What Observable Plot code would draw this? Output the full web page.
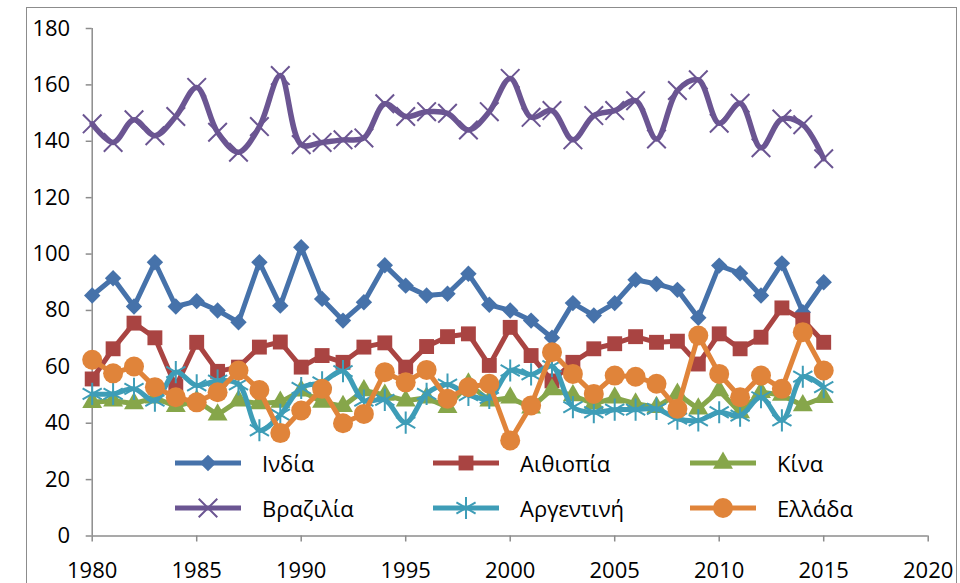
<!DOCTYPE html>
<html><head><meta charset="utf-8">
<script src="https://cdn.jsdelivr.net/npm/d3@7"></script>
<script src="https://cdn.jsdelivr.net/npm/@observablehq/plot@0.6"></script>
<style>
body{margin:0;background:#fff;}
#wrap{position:relative;width:960px;height:583px;overflow:hidden;font-family:"Open Sans",sans-serif;}
#frame{position:absolute;left:26px;top:7px;width:931px;height:640px;border:1px solid #8c8c8c;box-sizing:border-box;}
#chart{position:absolute;left:0;top:0;}
.leg{position:absolute;display:flex;align-items:center;font-size:22px;color:#000;}
.leg svg{display:block;}
</style></head><body>
<div id="wrap"><div id="frame"></div><div id="chart"></div><div id="legend"></div></div>
<script>
const years = d3.range(1980, 2016);
const xTicks = [1980,1985,1990,1995,2000,2005,2010,2015,2020];
const yTicks = [0,20,40,60,80,100,120,140,160,180];
const seriesNames = ["Ινδία","Αιθιοπία","Κίνα","Βραζιλία","Αργεντινή","Ελλάδα"];
const india = [85.3,91.4,81.4,97.1,81.4,83.3,80,75.8,97.1,81.7,102.4,84.1,76.4,82.9,96,88.8,85.3,85.9,93,82,80,76.4,70.3,82.6,78.2,82.6,90.9,89.4,87.3,77.4,95.9,93.2,85.3,96.7,79.4,90];
const ethiopia = [55.7,66.4,75.5,70.3,53,68.7,58.4,59.9,67,68.8,59.9,64,61.6,67,68.5,59.9,67.2,70.7,71.7,60.5,74,64,55,61.6,66.4,68.2,70.7,68.7,69.1,61,71.7,66.4,70.5,80.9,76.7,68.7];
const china = [47.4,48,47,49,46,48,43,48,47,47.5,51.5,47.5,46,51.6,50,48,49,45.7,54,48,49,45.5,52,49.8,46.9,49,46.9,45.7,50.4,45.1,51.6,43.8,51,50,46.3,49.2];
const brazil = [146.2,139.6,147.6,142,148.8,159.1,143.2,136.1,145.2,163.3,138.8,139.6,140.5,141.2,153.3,148.8,150.5,149.9,144,150.5,162.3,148.5,150.9,140.5,149.1,150.9,154.4,140.8,158,161.8,146.4,153.5,137.7,147.9,145.9,133.8];
const argentina = [50.4,50.4,52.2,48,58.1,53.4,55.1,53.8,37.5,43,52.5,54.5,58.5,48,48.3,40.2,50.4,53.7,50,49,58.7,57.3,60.2,45.7,43.9,44.8,44.8,45.1,41.6,41,43.9,42.7,49.2,41,56.5,52.8];
const greece = [62.5,57.7,60.1,52.8,49.2,47.4,51,58.7,51.8,36.5,44.5,52.2,40,43.3,58.1,54.5,58.9,48.7,52.8,54,33.9,46.3,65.2,57.5,50.4,56.9,56.5,54,45.1,71.1,57.5,49.2,56.9,52.2,72.3,58.7];

const values = [india, ethiopia, china, brazil, argentina, greece];
const colors = ["#4672AA","#A94442","#86A64A","#6B5592","#3E9DB7","#E0843A"];
const symbols = ["diamond2","square","triangle","times","asterisk","circle"];
const filled = [true,true,true,false,false,true];
const radii = [7.4,8.4,7.4,8.5,10.5,10];
const curves = ["linear","linear","linear","catmull-rom","catmull-rom","linear"];
const widths = [5,5,5,5.5,5,5];

const marks = [
  Plot.ruleY([0], {stroke:"#8c8c8c", strokeWidth:1.5}),
  Plot.ruleX([1980], {stroke:"#8c8c8c", strokeWidth:1.5}),
  Plot.axisX({ticks:xTicks, tickFormat:d=>String(d), tickSize:6, tickPadding:20, fontSize:22, stroke:"#8c8c8c", fill:"#000", strokeWidth:1.5, label:null}),
  Plot.axisY({ticks:yTicks, tickSize:6, tickPadding:16, fontSize:22, stroke:"#8c8c8c", fill:"#000", strokeWidth:1.5, label:null})
];
values.forEach((vals, i) => {
  const data = years.map((yr, j) => ({year: yr, value: vals[j]}));
  marks.push(Plot.line(data, {x:"year", y:"value", stroke:colors[i], strokeWidth:widths[i], curve:curves[i], strokeLinejoin:"round"}));
  if (filled[i]) marks.push(Plot.dot(data, {x:"year", y:"value", symbol:symbols[i], r:radii[i], fill:colors[i], stroke:"none"}));
  else marks.push(Plot.dot(data, {x:"year", y:"value", symbol:symbols[i], r:radii[i], fill:"none", stroke:colors[i], strokeWidth:2}));
});

const chart = Plot.plot({
  width:960, height:583,
  marginLeft:91.7, marginRight:32.3, marginTop:28, marginBottom:47.5,
  style:{fontFamily:"'Open Sans', sans-serif", fontSize:"22px", color:"#000", background:"transparent"},
  x:{domain:[1980,2020], axis:null, label:null},
  y:{domain:[0,180], axis:null, label:null},
  marks
});
document.getElementById("chart").appendChild(chart);

// legend
const symMap = {diamond2:d3.symbolDiamond2, square:d3.symbolSquare, triangle:d3.symbolTriangle, times:d3.symbolTimes, asterisk:d3.symbolAsterisk, circle:d3.symbolCircle};
const legCols = [175, 433, 690];
const legRows = [463, 508];
const leg = document.getElementById("legend");
seriesNames.forEach((name, i) => {
  const col = i % 3, row = Math.floor(i / 3);
  const size = Math.PI * radii[i] * radii[i];
  const path = d3.symbol(symMap[symbols[i]], size)();
  const mk = filled[i] ? `<path d="${path}" transform="translate(33,15)" fill="${colors[i]}"/>`
                       : `<path d="${path}" transform="translate(33,15)" fill="none" stroke="${colors[i]}" stroke-width="2"/>`;
  const div = document.createElement("div");
  div.className = "leg";
  div.style.left = legCols[col] + "px";
  div.style.top = (legRows[row] - 15) + "px";
  div.innerHTML = `<svg width="66" height="30"><line x1="0" x2="66" y1="15" y2="15" stroke="${colors[i]}" stroke-width="5"/>${mk}</svg><span style="margin-left:21px;line-height:30px">${name}</span>`;
  leg.appendChild(div);
});
</script>
</body></html>
